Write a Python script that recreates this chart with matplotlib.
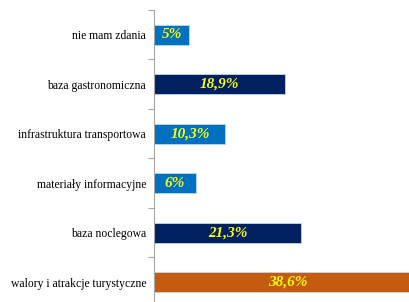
import matplotlib
matplotlib.use("Agg")
import matplotlib.pyplot as plt
import numpy as np

plt.rcParams["font.family"] = "serif"
plt.rcParams["font.serif"] = ["Liberation Serif", "DejaVu Serif"]

categories = ["nie mam zdania", "baza gastronomiczna", "infrastruktura transportowa",
              "materiały informacyjne", "baza noclegowa", "walory i atrakcje turystyczne"]
values = [5.0, 18.9, 10.3, 6.0, 21.3, 38.6]
labels = ["5%", "18,9%", "10,3%", "6%", "21,3%", "38,6%"]
colors = ["#0070C0", "#002060", "#0070C0", "#0070C0", "#002060", "#C55A11"]

fig = plt.figure(figsize=(4.10, 3.02), dpi=100)
ax = fig.add_axes([154.5/410, 0.0, 1 - 154.5/410, 292/302])

y = np.arange(len(categories))
ax.barh(y, values, height=0.4, color=colors, edgecolor="#BDD7EE", linewidth=0.6)
for yi, v, lab in zip(y, values, labels):
    ax.text(v/2, yi, lab, ha="center", va="center", color="#FFFF00",
            fontsize=11, fontweight="bold", fontstyle="italic")

ax.set_ylim(5.4, -0.5)
ax.set_xlim(0, 37.1)
ax.set_yticks(y)
ax.set_yticklabels(categories, fontsize=8.4, color="#000000")
ax.tick_params(axis="y", which="major", length=0, pad=6)
ax.set_yticks(np.arange(-0.5, 5.5, 1.0), minor=True)
ax.tick_params(axis="y", which="minor", length=4, color="#A6A6A6", width=0.8)
ax.set_xticks([])
for s in ["top", "right", "bottom"]:
    ax.spines[s].set_visible(False)
ax.spines["left"].set_color("#A6A6A6")
ax.spines["left"].set_linewidth(0.8)

fig.savefig("out.png", dpi=100)
